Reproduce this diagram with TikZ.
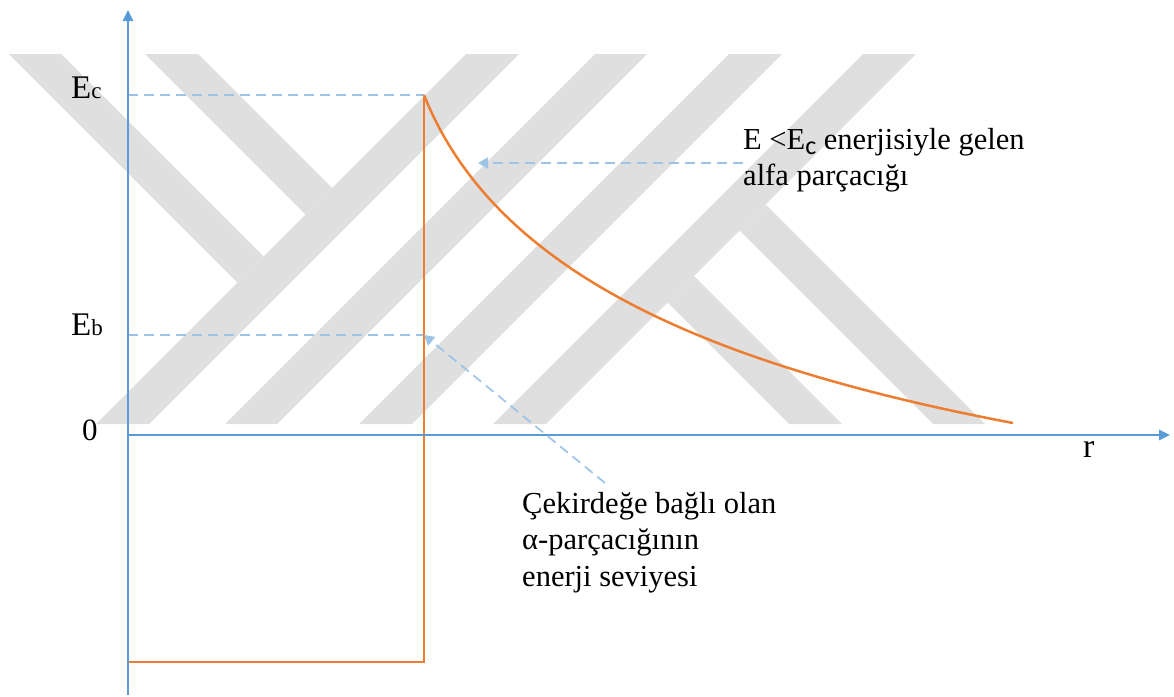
\documentclass[tikz,border=0pt]{standalone}
\usepackage{fontspec}
\setmainfont{Liberation Serif}
\newfontfamily\calibrifont{Carlito}
\usetikzlibrary{arrows.meta}
\definecolor{axisblue}{RGB}{91,155,213}
\definecolor{curveorange}{RGB}{237,125,49}
\definecolor{dashblue}{RGB}{157,195,230}
\definecolor{wmgray}{RGB}{223,223,223}
\begin{document}
\begin{tikzpicture}[x=1pt,y=-1pt,
  axis/.style={draw=axisblue,line width=2.5pt,-{Triangle[length=11pt,width=10pt]}},
  barrier/.style={draw=curveorange,line width=2.5pt,line join=miter},
  guide/.style={draw=dashblue,line width=1.7pt,dash pattern=on 10pt off 6pt},
  pointer/.style={guide,-{Triangle[length=10pt,width=11pt]}},
  wm/.style={fill=wmgray,draw=none},
  lbl/.style={inner sep=0pt,font=\fontsize{33}{40}\selectfont},
  note/.style={inner sep=0pt,align=left,anchor=north west,font=\fontsize{30.5}{36.5}\selectfont}]
\useasboundingbox (0,0) rectangle (1174,696);
% watermark
\fill[wm] (9,54) -- (61,54) -- (263.5,256.5) -- (237.5,282.5) -- cycle;
\fill[wm] (145,54) -- (198,54) -- (332,188) -- (305.5,214.5) -- cycle;
\fill[wm] (466,54) -- (519,54) -- (149,424) -- (96,424) -- cycle;
\fill[wm] (595,54) -- (647,54) -- (277,424) -- (225,424) -- cycle;
\fill[wm] (729,54) -- (782,54) -- (412,424) -- (359,424) -- cycle;
\fill[wm] (863,54) -- (916,54) -- (546,424) -- (493,424) -- cycle;
\fill[wm] (667.5,302.5) -- (694,276) -- (842,424) -- (789,424) -- cycle;
\fill[wm] (739.5,230.5) -- (765.5,204.5) -- (985,424) -- (933,424) -- cycle;
% coordinates
\coordinate (O) at (128,435);
\coordinate (ytop) at (128,10);
\coordinate (ybot) at (128,695);
\coordinate (xend) at (1170,435);
\coordinate (peak) at (424,95);
\coordinate (tail) at (1013,423);
\coordinate (wellR) at (424,662);
\coordinate (wellL) at (128,662);
\coordinate (ecAxis) at (128,95);
\coordinate (ebAxis) at (128,335);
\coordinate (ebPt) at (424,335);
\coordinate (hit) at (478,163);
\coordinate (a2start) at (605,483);
% guides
\draw[guide] (ecAxis) -- (peak);
\draw[guide] (ebAxis) -- (ebPt);
% barrier
\draw[barrier] (wellL) -- (wellR) -- (peak);
\draw[barrier] (peak) .. controls (490,260) and (680,360) .. (tail);
% axes
\draw[axis] (ybot) -- (ytop);
\draw[axis] (O) -- (xend);
% labels
\node[lbl,anchor=base west] (ec) at (71,98) {E{\fontsize{23}{23}\selectfont c}};
\node[lbl,anchor=base west] (eb) at (71,335) {E{\fontsize{23}{23}\selectfont b}};
\node[lbl,anchor=base west,font=\fontsize{31}{36}\selectfont] (zero) at (82,440) {0};
\node[lbl,anchor=base west,font=\fontsize{34}{40}\selectfont] (r) at (1083,457) {r};
\node[note] (t1) at (743,128) {E <E\raisebox{-5pt}{\calibrifont\fontsize{26}{26}\selectfont c} enerjisiyle gelen\\alfa parçacığı};
\node[note] (t2) at (522,492) {Çekirdeğe bağlı olan\\α-parçacığının\\enerji seviyesi};
% pointers
\draw[pointer] (t1.west |- hit) -- (hit);
\draw[pointer] (a2start) -- (ebPt);
\end{tikzpicture}
\end{document}
